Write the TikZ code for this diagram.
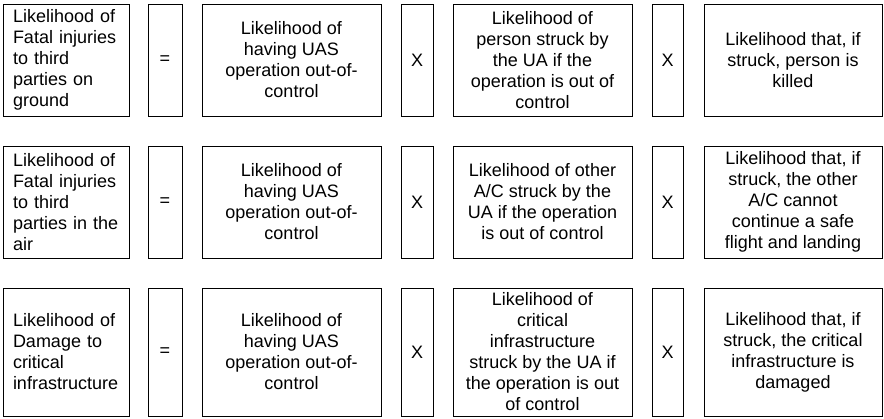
\documentclass[tikz,border=0pt]{standalone}
\usepackage{fontspec}
\setmainfont{Liberation Sans}
\tikzset{b/.style = {draw, line width=0.8pt, inner sep=0pt, align=center},
    l/.style = {b, align=left, text width=106pt, inner xsep=10pt},
    w/.style = {b, minimum width=179pt},
    o/.style = {b, minimum width=32pt}}

\begin{document}
\begin{tikzpicture}[x=1pt, y=-1pt, font=\fontsize{18}{21}\selectfont]
    \useasboundingbox (0,0) rectangle (884,418);
    % left hand side
    \node[l, minimum height=112pt] (f1) at (66,60)  {Likelihood of\\Fatal injuries\\to third\\parties on\\ground};
    \node[l, minimum height=112pt] (f2) at (66,202) {Likelihood of\\Fatal injuries\\to third\\parties in the\\air};
    \node[l, minimum height=128pt] (f3) at (66,352) {Likelihood of\\Damage to\\critical\\infrastructure};

    % operators
    \foreach \r/\y/\h in {1/60/112, 2/202/112, 3/352/128} {
        \node[o, minimum width=34pt, minimum height=\h pt] (eq\r) at (165,\y) {=};
        \node[o, minimum height=\h pt] (xa\r) at (417,\y) {X};
        \node[o, minimum width=31pt, minimum height=\h pt] (xb\r) at (667.5,\y) {X};
        \node[w, minimum height=\h pt] (u\r) at (291.5,\y) {Likelihood of\\having UAS\\operation out-of-\\control};
    }

    % struck
    \node[w, minimum height=112pt] (s1) at (542.5,60)  {Likelihood of\\person struck by\\the UA if the\\operation is out of\\control};
    \node[w, minimum height=112pt] (s2) at (542.5,202) {Likelihood of other\\A/C struck by the\\UA if the operation\\is out of control};
    \node[w, minimum height=128pt] (s3) at (542.5,352) {Likelihood of\\critical\\infrastructure\\struck by the UA if\\the operation is out\\of control};

    % consequence
    \node[w, minimum width=178pt, minimum height=112pt] (k1) at (793,60)  {Likelihood that, if\\struck, person is\\killed};
    \node[w, minimum width=178pt, minimum height=112pt] (k2) at (793,202) {Likelihood that, if\\struck, the other\\A/C cannot\\continue a safe\\flight and landing};
    \node[w, minimum width=178pt, minimum height=128pt] (k3) at (793,352) {Likelihood that, if\\struck, the critical\\infrastructure is\\damaged};
\end{tikzpicture}
\end{document}
